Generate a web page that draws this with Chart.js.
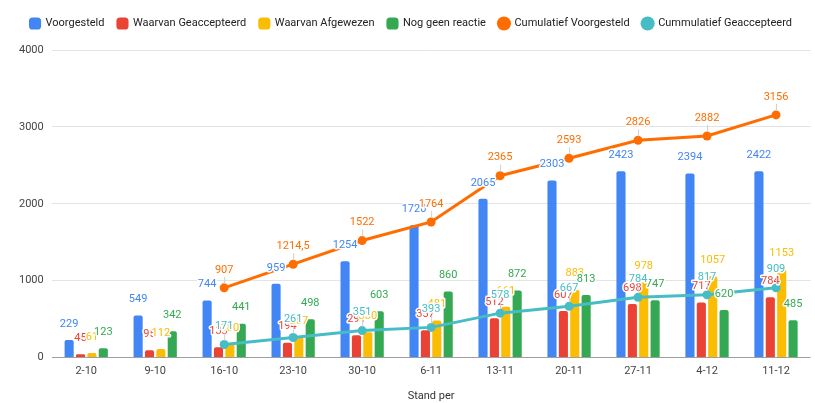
<!DOCTYPE html>
<html>
<head>
<meta charset="utf-8">
<script src="https://cdn.jsdelivr.net/npm/chart.js@4/dist/chart.umd.min.js"></script>
<style>
  html, body { margin: 0; padding: 0; background: #fff; overflow: hidden; }
  #wrap { width: 815px; height: 403px; }
</style>
</head>
<body>
<div id="wrap"><canvas id="chart" width="815" height="403"></canvas></div>
<script>
// data
const categories = ["2-10", "9-10", "16-10", "23-10", "30-10", "6-11", "13-11", "20-11", "27-11", "4-12", "11-12"];
const voorgesteld = [229, 549, 744, 959, 1254, 1720, 2065, 2303, 2423, 2394, 2422];
const geaccepteerd = [45, 95, 133, 194, 291, 357, 512, 607, 698, 717, 784];
const afgewezen = [61, 112, 180, 267, 330, 481, 661, 883, 978, 1057, 1153];
const geenReactie = [123, 342, 441, 498, 603, 860, 872, 813, 747, 620, 485];
const cumVoorgesteld = [null, null, 907, 1214.5, 1522, 1764, 2365, 2593, 2826, 2882, 3156];
const cumGeaccepteerd = [null, null, 171, 261, 351, 393, 578, 667, 784, 817, 909];
const yTicks = [0, 1000, 2000, 3000, 4000];

const FONT = "Roboto";

function barSet(label, data, color) {
  return {
    type: "bar",
    label,
    data,
    backgroundColor: color,
    borderRadius: 2,
    borderSkipped: "bottom",
    categoryPercentage: 0.66,
    barPercentage: 0.8,
    order: 1,
  };
}

function lineSet(label, data, color) {
  return {
    type: "line",
    label,
    data,
    borderColor: color,
    backgroundColor: color,
    borderWidth: 3,
    pointRadius: 4.5,
    pointBorderWidth: 0,
    pointBackgroundColor: color,
    tension: 0,
    order: 0,
  };
}

const fmt = (v) => String(v).replace(".", ",");

// value labels with a white halo, like the sheet annotations
const valueLabels = {
  id: "valueLabels",
  afterDatasetsDraw(chart) {
    const ctx = chart.ctx;
    ctx.save();
    ctx.font = "11px " + FONT;
    ctx.textAlign = "center";
    ctx.textBaseline = "middle";
    chart.data.datasets.forEach((ds, i) => {
      const meta = chart.getDatasetMeta(i);
      const isLine = ds.type === "line";
      meta.data.forEach((el, j) => {
        const v = ds.data[j];
        if (v === null || v === undefined) return;
        const x = el.x;
        const y = el.y - (isLine ? 18 : 16);
        if (isLine) {
          ctx.strokeStyle = "#d0d0d0";
          ctx.lineWidth = 1;
          ctx.beginPath();
          ctx.moveTo(x + 0.5, y + 7);
          ctx.lineTo(x + 0.5, el.y - 4);
          ctx.stroke();
        }
        ctx.lineWidth = 3;
        ctx.lineJoin = "round";
        ctx.strokeStyle = "#fff";
        ctx.strokeText(fmt(v), x, y);
        ctx.fillStyle = ds.borderColor || ds.backgroundColor;
        ctx.fillText(fmt(v), x, y);
      });
    });
    ctx.restore();
  },
};

// extra room between the legend and the plot
const legendGap = {
  id: "legendGap",
  beforeInit(chart) {
    const fit = chart.legend.fit;
    chart.legend.fit = function () {
      fit.bind(chart.legend)();
      this.height += 11;
    };
  },
};

const datasets = [
  barSet("Voorgesteld", voorgesteld, "#4285F4"),
  barSet("Waarvan Geaccepteerd", geaccepteerd, "#EA4335"),
  barSet("Waarvan Afgewezen", afgewezen, "#FBBC04"),
  barSet("Nog geen reactie", geenReactie, "#34A853"),
  lineSet("Cumulatief Voorgesteld", cumVoorgesteld, "#FF6D01"),
  lineSet("Cummulatief Geaccepteerd", cumGeaccepteerd, "#46BDC6"),
];

new Chart(document.getElementById("chart"), {
  data: { labels: categories, datasets },
  options: {
    responsive: false,
    animation: false,
    devicePixelRatio: 1,
    layout: { padding: { top: 5, right: 4, left: 11, bottom: 0 } },
    plugins: {
      tooltip: { enabled: false },
      legend: {
        position: "top",
        labels: {
          usePointStyle: true,
          boxWidth: 10,
          boxHeight: 10,
          padding: 13,
          color: "#222",
          font: { family: FONT, size: 11 },
          sort: (a, b) => a.datasetIndex - b.datasetIndex,
          generateLabels(chart) {
            const items = Chart.defaults.plugins.legend.labels.generateLabels(chart);
            items.forEach((it) => {
              const ds = chart.data.datasets[it.datasetIndex];
              it.pointStyle = ds.type === "line" ? "circle" : "rectRounded";
              it.fillStyle = ds.backgroundColor;
              it.strokeStyle = ds.backgroundColor;
              it.lineWidth = 0;
            });
            return items;
          },
        },
      },
    },
    scales: {
      x: {
        grid: { display: false, drawTicks: false },
        border: { display: false },
        ticks: { color: "#444", font: { family: FONT, size: 11 }, padding: 7 },
        title: { display: true, text: "Stand per", color: "#333", font: { family: FONT, size: 11 }, padding: { top: 5, bottom: 0 } },
      },
      y: {
        min: yTicks[0],
        max: yTicks[yTicks.length - 1],
        afterBuildTicks: (axis) => { axis.ticks = yTicks.map((v) => ({ value: v })); },
        border: { display: false },
        grid: {
          drawTicks: false,
          color: (c) => (c.tick && c.tick.value === 0 ? "#9e9e9e" : "#e3e3e3"),
        },
        ticks: {
          color: "#444",
          font: { family: FONT, size: 11 },
          padding: 8,
          callback: (v) => String(v),
        },
      },
    },
  },
  plugins: [valueLabels, legendGap],
});
</script>
</body>
</html>
